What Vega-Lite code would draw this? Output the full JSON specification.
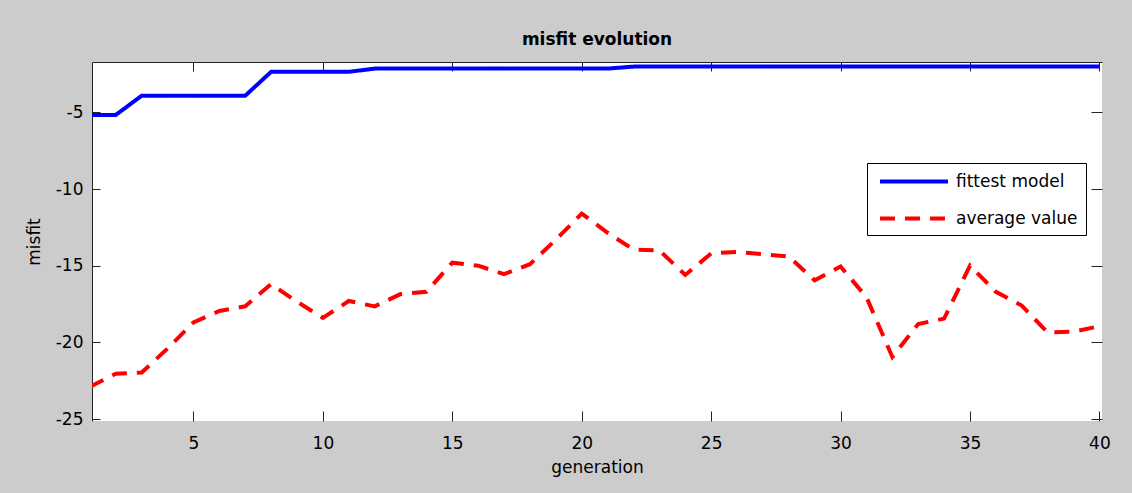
{
  "$schema": "https://vega.github.io/schema/vega-lite/v6.json",
  "width": 1010,
  "height": 359,
  "autosize": {"type": "none"},
  "padding": {"left": 92, "top": 62, "right": 30, "bottom": 72},
  "background": "#cccccc",
  "title": {
    "text": "misfit evolution",
    "font": "DejaVu Sans",
    "fontSize": 17,
    "fontWeight": "bold",
    "color": "black",
    "anchor": "middle",
    "baseline": "alphabetic",
    "offset": 0
  },
  "data": {
    "values": [
      {"generation": 1, "series": "fittest model", "misfit": -5.16},
      {"generation": 2, "series": "fittest model", "misfit": -5.16},
      {"generation": 3, "series": "fittest model", "misfit": -3.91},
      {"generation": 4, "series": "fittest model", "misfit": -3.91},
      {"generation": 5, "series": "fittest model", "misfit": -3.91},
      {"generation": 6, "series": "fittest model", "misfit": -3.91},
      {"generation": 7, "series": "fittest model", "misfit": -3.91},
      {"generation": 8, "series": "fittest model", "misfit": -2.35},
      {"generation": 9, "series": "fittest model", "misfit": -2.35},
      {"generation": 10, "series": "fittest model", "misfit": -2.35},
      {"generation": 11, "series": "fittest model", "misfit": -2.35},
      {"generation": 12, "series": "fittest model", "misfit": -2.14},
      {"generation": 13, "series": "fittest model", "misfit": -2.14},
      {"generation": 14, "series": "fittest model", "misfit": -2.14},
      {"generation": 15, "series": "fittest model", "misfit": -2.14},
      {"generation": 16, "series": "fittest model", "misfit": -2.14},
      {"generation": 17, "series": "fittest model", "misfit": -2.14},
      {"generation": 18, "series": "fittest model", "misfit": -2.14},
      {"generation": 19, "series": "fittest model", "misfit": -2.14},
      {"generation": 20, "series": "fittest model", "misfit": -2.14},
      {"generation": 21, "series": "fittest model", "misfit": -2.14},
      {"generation": 22, "series": "fittest model", "misfit": -2.01},
      {"generation": 23, "series": "fittest model", "misfit": -2.01},
      {"generation": 24, "series": "fittest model", "misfit": -2.01},
      {"generation": 25, "series": "fittest model", "misfit": -2.01},
      {"generation": 26, "series": "fittest model", "misfit": -2.01},
      {"generation": 27, "series": "fittest model", "misfit": -2.01},
      {"generation": 28, "series": "fittest model", "misfit": -2.01},
      {"generation": 29, "series": "fittest model", "misfit": -2.01},
      {"generation": 30, "series": "fittest model", "misfit": -2.01},
      {"generation": 31, "series": "fittest model", "misfit": -2.01},
      {"generation": 32, "series": "fittest model", "misfit": -2.01},
      {"generation": 33, "series": "fittest model", "misfit": -2.01},
      {"generation": 34, "series": "fittest model", "misfit": -2.01},
      {"generation": 35, "series": "fittest model", "misfit": -2.01},
      {"generation": 36, "series": "fittest model", "misfit": -2.01},
      {"generation": 37, "series": "fittest model", "misfit": -2.01},
      {"generation": 38, "series": "fittest model", "misfit": -2.01},
      {"generation": 39, "series": "fittest model", "misfit": -2.01},
      {"generation": 40, "series": "fittest model", "misfit": -2.01},
      {"generation": 1, "series": "average value", "misfit": -22.9},
      {"generation": 2, "series": "average value", "misfit": -22.05},
      {"generation": 3, "series": "average value", "misfit": -21.97},
      {"generation": 4, "series": "average value", "misfit": -20.4},
      {"generation": 5, "series": "average value", "misfit": -18.7},
      {"generation": 6, "series": "average value", "misfit": -17.95},
      {"generation": 7, "series": "average value", "misfit": -17.65},
      {"generation": 8, "series": "average value", "misfit": -16.2},
      {"generation": 9, "series": "average value", "misfit": -17.35},
      {"generation": 10, "series": "average value", "misfit": -18.4},
      {"generation": 11, "series": "average value", "misfit": -17.3},
      {"generation": 12, "series": "average value", "misfit": -17.65},
      {"generation": 13, "series": "average value", "misfit": -16.85},
      {"generation": 14, "series": "average value", "misfit": -16.7},
      {"generation": 15, "series": "average value", "misfit": -14.8},
      {"generation": 16, "series": "average value", "misfit": -15.0},
      {"generation": 17, "series": "average value", "misfit": -15.55},
      {"generation": 18, "series": "average value", "misfit": -14.9},
      {"generation": 19, "series": "average value", "misfit": -13.3},
      {"generation": 20, "series": "average value", "misfit": -11.6},
      {"generation": 21, "series": "average value", "misfit": -12.85},
      {"generation": 22, "series": "average value", "misfit": -13.95},
      {"generation": 23, "series": "average value", "misfit": -14.0},
      {"generation": 24, "series": "average value", "misfit": -15.6},
      {"generation": 25, "series": "average value", "misfit": -14.2},
      {"generation": 26, "series": "average value", "misfit": -14.1},
      {"generation": 27, "series": "average value", "misfit": -14.25},
      {"generation": 28, "series": "average value", "misfit": -14.4},
      {"generation": 29, "series": "average value", "misfit": -15.95},
      {"generation": 30, "series": "average value", "misfit": -15.05},
      {"generation": 31, "series": "average value", "misfit": -17.05},
      {"generation": 32, "series": "average value", "misfit": -20.95},
      {"generation": 33, "series": "average value", "misfit": -18.8},
      {"generation": 34, "series": "average value", "misfit": -18.45},
      {"generation": 35, "series": "average value", "misfit": -15.0},
      {"generation": 36, "series": "average value", "misfit": -16.7},
      {"generation": 37, "series": "average value", "misfit": -17.6},
      {"generation": 38, "series": "average value", "misfit": -19.35},
      {"generation": 39, "series": "average value", "misfit": -19.3},
      {"generation": 40, "series": "average value", "misfit": -18.95}
    ]
  },
  "layer": [
    {
      "mark": {"type": "line", "strokeWidth": 4, "clip": true},
      "encoding": {
        "x": {
          "field": "generation",
          "type": "quantitative",
          "scale": {"domain": [1.08, 40.1], "nice": false, "zero": false},
          "axis": {
            "orient": "bottom",
            "values": [5, 10, 15, 20, 25, 30, 35, 40],
            "labelExpr": "'' + datum.value",
            "title": "generation",
            "domain": false,
            "tickSize": -10,
            "labelPadding": 24,
            "titlePadding": 8
          }
        },
        "y": {
          "field": "misfit",
          "type": "quantitative",
          "scale": {"domain": [-25.13, -1.71], "nice": false, "zero": false},
          "axis": {
            "orient": "left",
            "values": [-25, -20, -15, -10, -5],
            "labelExpr": "'' + datum.value",
            "title": "misfit",
            "domain": true,
            "tickSize": -8,
            "labelPadding": 17,
            "titlePadding": 12
          }
        },
        "color": {
          "field": "series",
          "type": "nominal",
          "scale": {"domain": ["fittest model", "average value"], "range": ["#0000ff", "#ff0000"]},
          "legend": {
            "orient": "none",
            "legendX": 775,
            "legendY": 101,
            "title": null,
            "fillColor": "white",
            "strokeColor": "black",
            "padding": 8,
            "labelFont": "DejaVu Sans",
            "labelFontSize": 17,
            "labelColor": "black",
            "symbolSize": 289,
            "symbolStrokeWidth": 4,
            "symbolType": "M-0.65,0H7.35",
            "labelOffset": 60,
            "rowPadding": 18
          }
        },
        "strokeDash": {
          "field": "series",
          "type": "nominal",
          "scale": {"domain": ["fittest model", "average value"], "range": [[1, 0], [15, 10]]},
          "legend": {
            "orient": "none",
            "legendX": 775,
            "legendY": 101,
            "title": null,
            "fillColor": "white",
            "strokeColor": "black",
            "padding": 8,
            "labelFont": "DejaVu Sans",
            "labelFontSize": 17,
            "labelColor": "black",
            "symbolSize": 289,
            "symbolStrokeWidth": 4,
            "symbolType": "M-0.65,0H7.35",
            "labelOffset": 60,
            "rowPadding": 18
          }
        }
      }
    },
    {
      "mark": {"type": "point", "opacity": 0},
      "encoding": {
        "x": {
          "field": "generation",
          "type": "quantitative",
          "scale": {"domain": [1.08, 40.1], "nice": false, "zero": false},
          "axis": {
            "orient": "top",
            "values": [5, 10, 15, 20, 25, 30, 35, 40],
            "title": null,
            "labels": false,
            "domain": true,
            "tickSize": -9
          }
        },
        "y": {
          "field": "misfit",
          "type": "quantitative",
          "scale": {"domain": [-25.13, -1.71], "nice": false, "zero": false},
          "axis": {
            "orient": "right",
            "values": [-25, -20, -15, -10, -5],
            "title": null,
            "labels": false,
            "domain": false,
            "tickSize": -11
          }
        }
      }
    }
  ],
  "resolve": {"scale": {"x": "independent", "y": "independent"}, "axis": {"x": "independent", "y": "independent"}},
  "config": {
    "view": {"fill": "white", "stroke": null},
    "font": "DejaVu Sans",
    "axis": {
      "grid": false,
      "labelFont": "DejaVu Sans",
      "labelFontSize": 17,
      "labelColor": "black",
      "titleFont": "DejaVu Sans",
      "titleFontSize": 17,
      "titleFontWeight": "normal",
      "titleColor": "black",
      "tickColor": "#222222",
      "tickWidth": 1,
      "domainColor": "#222222",
      "domainWidth": 1
    }
  }
}
